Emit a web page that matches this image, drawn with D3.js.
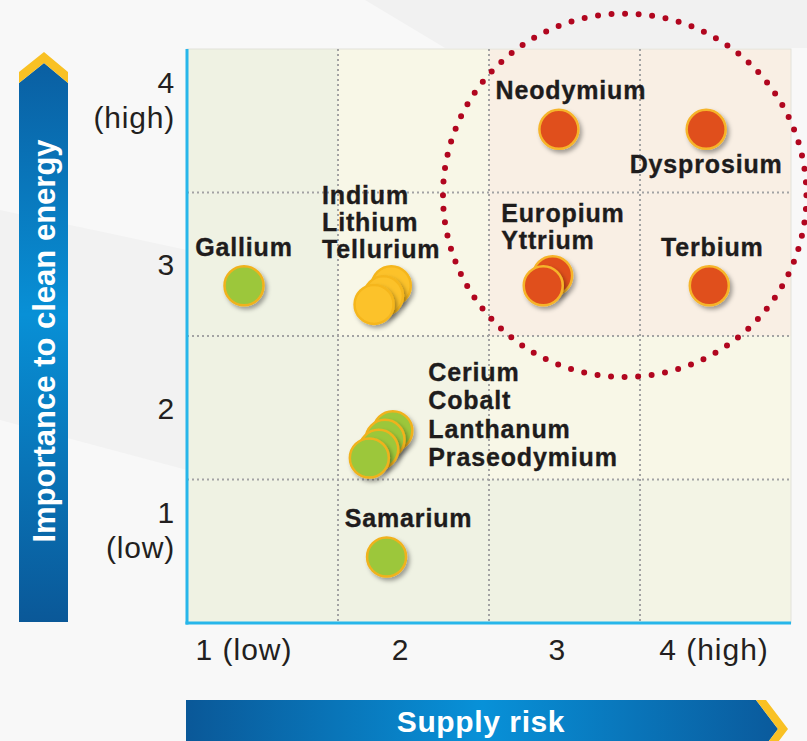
<!DOCTYPE html>
<html>
<head>
<meta charset="utf-8">
<script src="https://cdn.jsdelivr.net/npm/d3@7"></script>
<style>
html, body { margin: 0; padding: 0; background: #f6f6f6; }
svg { display: block; }
text { font-family: "Liberation Sans", Arial, Helvetica, sans-serif; }
</style>
</head>
<body>
<svg id="chart" width="807" height="741"></svg>
<script>
// ---------------- DATA ----------------
const xTickValues = [1, 2, 3, 4];
const xTickLabels = ["1 (low)", "2", "3", "4 (high)"];
const yTickValues = [1, 2, 3, 4];
const yTickLabels = [["1", "(low)"], ["2"], ["3"], ["4", "(high)"]];
const xAxisTitle = "Supply risk";
const yAxisTitle = "Importance to clean energy";

const elements = ["Gallium", "Indium", "Lithium", "Tellurium", "Cerium", "Cobalt", "Lanthanum",
  "Praseodymium", "Samarium", "Neodymium", "Dysprosium", "Europium", "Yttrium", "Terbium"];
const supplyRisk = [1.00, 1.94, 1.89, 1.83, 1.95, 1.90, 1.86, 1.80, 1.91, 3.01, 3.95, 2.97, 2.91, 3.97];
const cleanEnergyImportance = [2.85, 2.85, 2.78, 2.72, 1.84, 1.78, 1.71, 1.65, 0.96, 3.94, 3.94, 2.92, 2.85, 2.85];
const criticality = ["not", "near", "near", "near", "not", "not", "not", "not", "not",
  "critical", "critical", "critical", "critical", "critical"];

const labelGroups = [
  ["Gallium"],
  ["Indium", "Lithium", "Tellurium"],
  ["Cerium", "Cobalt", "Lanthanum", "Praseodymium"],
  ["Samarium"],
  ["Neodymium"],
  ["Dysprosium"],
  ["Europium", "Yttrium"],
  ["Terbium"]
];

// annotation: highlighted critical zone (value space)
const criticalZone = { supplyRisk: 3.43, importance: 3.48, radius: 1.16 };

// ---------------- LAYOUT / STYLE ----------------
const plot = { left: 187, right: 791, top: 49, bottom: 623 };
const labelPlacement = [
  { ref: "Gallium", anchor: "middle", dx: 0, dy: -30, lh: 0 },
  { ref: "Tellurium", anchor: "start", dx: -52, dy: -100, lh: 27 },
  { ref: "Praseodymium", anchor: "start", dx: 59, dy: -77, lh: 28.3 },
  { ref: "Samarium", anchor: "middle", dx: 22, dy: -30, lh: 0 },
  { ref: "Neodymium", anchor: "middle", dx: 12, dy: -30, lh: 0 },
  { ref: "Dysprosium", anchor: "middle", dx: 0, dy: 44, lh: 0 },
  { ref: "Yttrium", anchor: "start", dx: -42, dy: -64, lh: 27 },
  { ref: "Terbium", anchor: "middle", dx: 3, dy: -30, lh: 0 }
];
// cell tones: rows from top (importance 4) to bottom (1), columns risk 1..4
const cellTones = [
  ["g", "y", "p", "p"],
  ["g", "y", "p", "p"],
  ["g", "gy", "y", "y"],
  ["g", "g", "g", "gy"]
];
const toneColor = { g: "#eff2e3", gy: "#f3f4e5", y: "#f8f7e7", p: "#f9efe4" };
const fillColor = { not: "#9cc73b", near: "#fcc22c", critical: "#e0501e" };
const strokeColor = { not: "#f0b21f", near: "#f5b61c", critical: "#f6b42a" };

// ---------------- SCALES ----------------
const x = d3.scaleLinear().domain([1, 4]).range([244, 714]);
const y = d3.scaleLinear().domain([0.5, 4.5]).range([plot.bottom, plot.top]);
const colBand = d3.scaleBand().domain([1, 2, 3, 4]).range([plot.left, plot.right]);
const rowBand = d3.scaleBand().domain([4, 3, 2, 1]).range([plot.top, plot.bottom]);

const svg = d3.select("#chart");
const defs = svg.append("defs");

// page background shading
svg.append("rect").attr("width", 807).attr("height", 741).attr("fill", "#f8f8f8");
svg.append("polygon").attr("points", "365,0 807,0 807,48 445,48").attr("fill", "#f1f1f1");
svg.append("polygon").attr("points", "0,210 187,250 187,470 0,420").attr("fill", "#f2f2f2");

// gradients
const gV = defs.append("linearGradient").attr("id", "gV").attr("x1", 0).attr("y1", 0).attr("x2", 0).attr("y2", 1);
gV.append("stop").attr("offset", "0%").attr("stop-color", "#0a5fa2");
gV.append("stop").attr("offset", "45%").attr("stop-color", "#0890d6");
gV.append("stop").attr("offset", "100%").attr("stop-color", "#0a5898");
const gH = defs.append("linearGradient").attr("id", "gH").attr("x1", 0).attr("y1", 0).attr("x2", 1).attr("y2", 0);
gH.append("stop").attr("offset", "0%").attr("stop-color", "#0a5898");
gH.append("stop").attr("offset", "50%").attr("stop-color", "#0891d8");
gH.append("stop").attr("offset", "100%").attr("stop-color", "#0a5a9c");

const shadow = defs.append("filter").attr("id", "shadow").attr("x", "-50%").attr("y", "-50%").attr("width", "200%").attr("height", "200%");
shadow.append("feDropShadow").attr("dx", 2.5).attr("dy", 3).attr("stdDeviation", 2)
  .attr("flood-color", "#000").attr("flood-opacity", 0.35);

// ---------------- PLOT AREA ----------------
const cells = [];
rowBand.domain().forEach((r, ri) => colBand.domain().forEach((c, ci) => cells.push({ r, c, tone: cellTones[ri][ci] })));
svg.append("g").selectAll("rect").data(cells).join("rect")
  .attr("x", d => colBand(d.c)).attr("y", d => rowBand(d.r))
  .attr("width", colBand.bandwidth()).attr("height", rowBand.bandwidth())
  .attr("fill", d => toneColor[d.tone]);

svg.append("rect").attr("x", plot.left).attr("y", plot.top)
  .attr("width", plot.right - plot.left).attr("height", plot.bottom - plot.top)
  .attr("fill", "none").attr("stroke", "#e2e2da").attr("stroke-width", 1);

// dotted grid
const grid = svg.append("g").attr("stroke", "#a3a3a3").attr("stroke-width", 2).attr("stroke-dasharray", "2 3");
grid.selectAll("line.v").data(colBand.domain().slice(1)).join("line").attr("class", "v")
  .attr("x1", d => colBand(d)).attr("x2", d => colBand(d))
  .attr("y1", plot.top).attr("y2", plot.bottom);
grid.selectAll("line.h").data(rowBand.domain().slice(1)).join("line").attr("class", "h")
  .attr("y1", d => rowBand(d)).attr("y2", d => rowBand(d))
  .attr("x1", plot.left).attr("x2", plot.right);

// axis lines (cyan)
svg.append("line").attr("x1", plot.left).attr("x2", plot.left).attr("y1", plot.top).attr("y2", plot.bottom + 1.5)
  .attr("stroke", "#27b6ea").attr("stroke-width", 3);
svg.append("line").attr("x1", plot.left - 1.5).attr("x2", plot.right).attr("y1", plot.bottom).attr("y2", plot.bottom)
  .attr("stroke", "#27b6ea").attr("stroke-width", 3);

// tick labels
svg.append("g").selectAll("text").data(xTickValues).join("text")
  .attr("x", d => x(d)).attr("y", 660)
  .attr("text-anchor", "middle").attr("font-size", 30).attr("letter-spacing", 1)
  .attr("fill", "#231f20").text((d, i) => xTickLabels[i]);

const yt = svg.append("g").selectAll("text").data(yTickValues).join("text")
  .attr("text-anchor", "end").attr("font-size", 30).attr("letter-spacing", 0.8).attr("fill", "#231f20");
yt.each(function (d, i) {
  const lines = yTickLabels[i];
  const base = rowBand(d) + rowBand.bandwidth() / 2 + (lines.length > 1 ? 7 : 11);
  d3.select(this).selectAll("tspan").data(lines).join("tspan")
    .attr("x", 175).attr("y", (t, k) => base - (lines.length - 1 - k) * 35).text(t => t);
});

// ---------------- POINTS ----------------
const pts = elements.map((name, i) => ({ name, sx: supplyRisk[i], iy: cleanEnergyImportance[i], c: criticality[i] }));
svg.append("g").selectAll("circle").data(pts).join("circle")
  .attr("cx", d => x(d.sx)).attr("cy", d => y(d.iy)).attr("r", 19.5)
  .attr("fill", d => fillColor[d.c]).attr("stroke", d => strokeColor[d.c]).attr("stroke-width", 2.5)
  .attr("filter", "url(#shadow)");

// labels (one text element per line)
const byName = new Map(pts.map(p => [p.name, p]));
const lg = svg.append("g").attr("font-size", 25).attr("font-weight", "bold").attr("fill", "#1e1c1c")
  .attr("stroke", "#1e1c1c").attr("stroke-width", 0.35).attr("letter-spacing", 0.85);
labelGroups.forEach((names, gi) => {
  const pl = labelPlacement[gi];
  const p = byName.get(pl.ref);
  const px = x(p.sx) + pl.dx, py = y(p.iy) + pl.dy;
  lg.append("g").selectAll("text").data(names).join("text")
    .attr("text-anchor", pl.anchor)
    .attr("x", px).attr("y", (n, k) => py + k * pl.lh).text(n => n);
});

// critical zone dotted circle
const czr = x(criticalZone.supplyRisk + criticalZone.radius) - x(criticalZone.supplyRisk);
svg.append("circle").attr("cx", x(criticalZone.supplyRisk)).attr("cy", y(criticalZone.importance)).attr("r", czr)
  .attr("fill", "none").attr("stroke", "#b1061f").attr("stroke-width", 6)
  .attr("stroke-linecap", "round").attr("stroke-dasharray", `0 ${(2 * Math.PI * czr / 84).toFixed(3)}`);

// ---------------- AXIS ARROWS ----------------
// vertical arrow (y axis title)
svg.append("polygon").attr("points", "19,83 44,63 68,83 68,622 19,622").attr("fill", "url(#gV)");
svg.append("polygon").attr("points", "19,72 44,52 68,72 68,83 44,63 19,83").attr("fill", "#f9c124");
svg.append("text").attr("transform", "translate(55,341) rotate(-90)")
  .attr("text-anchor", "middle").attr("font-size", 31).attr("font-weight", "bold").attr("fill", "#ffffff")
  .text(yAxisTitle);

// horizontal arrow (x axis title)
svg.append("polygon").attr("points", "186,700 756,700 778,729 756,758 186,758").attr("fill", "url(#gH)");
svg.append("polygon").attr("points", "756,700 766,700 788,729 766,758 756,758 778,729").attr("fill", "#f9c124");
svg.append("text").attr("x", 481).attr("y", 732)
  .attr("text-anchor", "middle").attr("font-size", 30).attr("font-weight", "bold").attr("fill", "#ffffff")
  .attr("letter-spacing", 0.6).text(xAxisTitle);
</script>
</body>
</html>
